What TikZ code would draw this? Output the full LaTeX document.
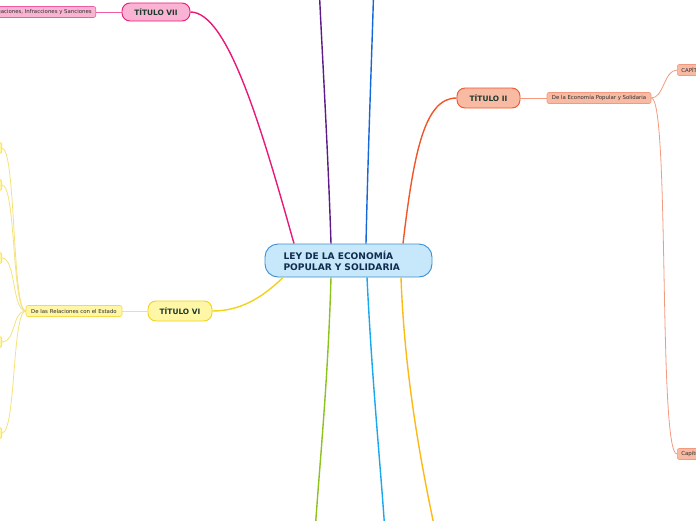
\documentclass[tikz,border=0pt]{standalone}
\usepackage{fontspec}
\setmainfont{DejaVu Sans}[BoldFont={DejaVu Sans Bold}]
\definecolor{cpink}{HTML}{E8197A}
\definecolor{cpinkfill}{HTML}{FBB3D3}
\definecolor{cpurple}{HTML}{5E1B88}
\definecolor{cblue}{HTML}{1668D8}
\definecolor{cred}{HTML}{F0562A}
\definecolor{credfill}{HTML}{F8BAA3}
\definecolor{csalm}{HTML}{F39A7E}
\definecolor{cyel}{HTML}{F2D318}
\definecolor{cyelfill}{HTML}{FFF6A6}
\definecolor{cyelthin}{HTML}{F5E27A}
\definecolor{cgreen}{HTML}{8DC21F}
\definecolor{clblue}{HTML}{17A8EE}
\definecolor{corange}{HTML}{FDB914}
\definecolor{ccentfill}{HTML}{C6E8FA}
\definecolor{ccentdraw}{HTML}{3C8ED2}
\definecolor{cnavy}{HTML}{102C4E}
\definecolor{ctit}{HTML}{1C3A30}
\definecolor{csub}{HTML}{2E2E2E}
\tikzset{
  mainline/.style={line width=1.4pt},
  thinline/.style={line width=0.8pt},
  titlebox/.style={draw, line width=0.9pt, rounded corners=8pt, inner sep=0pt,
    font=\fontsize{7.4}{8}\selectfont\bfseries, text=ctit},
  subbox/.style={draw, line width=0.6pt, rounded corners=2pt, inner sep=0pt,
    minimum height=11pt, font=\fontsize{5.4}{6}\selectfont, text=csub},
}
\begin{document}
\begin{tikzpicture}[x=1pt,y=-1pt]
\clip (0,0) rectangle (696,520);
\fill[white] (0,0) rectangle (696,520);
% central node
\node[draw=ccentdraw, fill=ccentfill, line width=0.9pt, rounded corners=13pt,
  minimum width=167pt, minimum height=33pt, text width=130pt, inner xsep=18.5pt,
  align=left, font=\fontsize{9.1}{11}\selectfont\bfseries, text=cnavy]
  (root) at (348.5,260.5) {LEY DE LA ECONOMÍA\\POPULAR Y SOLIDARIA};
% title nodes
\node[titlebox, fill=cpinkfill, draw=cpink, minimum width=68pt, minimum height=18pt] (t7) at (156,12) {TÍTULO VII};
\node[titlebox, fill=credfill, draw=cred, minimum width=63pt, minimum height=20pt] (t2) at (488.5,98) {TÍTULO II};
\node[titlebox, fill=cyelfill, draw=cyel, minimum width=64pt, minimum height=20pt] (t6) at (180,311) {TÍTULO VI};
% sub nodes
\node[subbox, fill=cpinkfill, draw=cpink!70, anchor=east, inner xsep=4pt] (s7) at (96,12) {De las Obligaciones, Infracciones y Sanciones};
\node[subbox, fill=credfill, draw=csalm, minimum width=104pt] (s2) at (599,98) {De la Economía Popular y Solidaria};
\node[subbox, fill=cyelfill, draw=cyel!80, minimum width=96pt] (s6) at (74,311) {De las Relaciones con el Estado};
\node[subbox, fill=credfill, draw=csalm, anchor=west, inner xsep=4pt] (c1) at (677,70) {CAPÍTULO I};
\node[subbox, fill=credfill, draw=csalm, anchor=west, inner xsep=4pt] (c2) at (677,454) {Capítulo II};
\foreach \i/\y in {1/148,2/185,3/258,4/342,5/433}{
  \node[subbox, fill=cyelfill, draw=cyel!80, minimum width=20pt, anchor=east] (y\i) at (2,\y) {};
}
\coordinate (e1) at (319.5,-5);
\coordinate (e2) at (373.5,-5);
\coordinate (e3) at (315.5,525);
\coordinate (e4) at (384.5,525);
\coordinate (e5) at (434,525);
% main connectors
\draw[mainline, cpink] ([xshift=-54.5pt]root.north) .. controls (262,130) and (228,12) .. (t7.east);
\draw[mainline, cpurple] ([xshift=-17.5pt]root.north) .. controls (328,150) and (322,50) .. (e1);
\draw[mainline, cblue] ([xshift=17.5pt]root.north) .. controls (368,150) and (372,50) .. (e2);
\draw[mainline, cred] ([xshift=54.5pt]root.north) .. controls (414,150) and (425,98) .. (t2.west);
\draw[mainline, cyel] ([xshift=-65.5pt]root.south) .. controls (262,298) and (240,311) .. (t6.east);
\draw[mainline, cgreen] ([xshift=-17.5pt]root.south) .. controls (328,380) and (320,460) .. (e3);
\draw[mainline, clblue] ([xshift=18.5pt]root.south) .. controls (372,380) and (380,460) .. (e4);
\draw[mainline, corange] ([xshift=52.5pt]root.south) .. controls (404,360) and (416,440) .. (e5);
% thin connectors
\draw[thinline, cpink!70] (t7.west) -- (s7.east);
\draw[thinline, csalm] (t2.east) -- (s2.west);
\draw[thinline, cyelthin] (t6.west) -- (s6.east);
\draw[thinline, csalm] (s2.east) .. controls (664,98) and (664,70) .. (c1.west);
\draw[thinline, csalm] (s2.east) .. controls (670,98) and (658,454) .. (c2.west);
\foreach \i/\y in {1/148,2/185,3/258,4/342,5/433}{
  \draw[thinline, cyelthin] (s6.west) .. controls (12,311) and (16,\y) .. (y\i.east);
}
\end{tikzpicture}
\end{document}
